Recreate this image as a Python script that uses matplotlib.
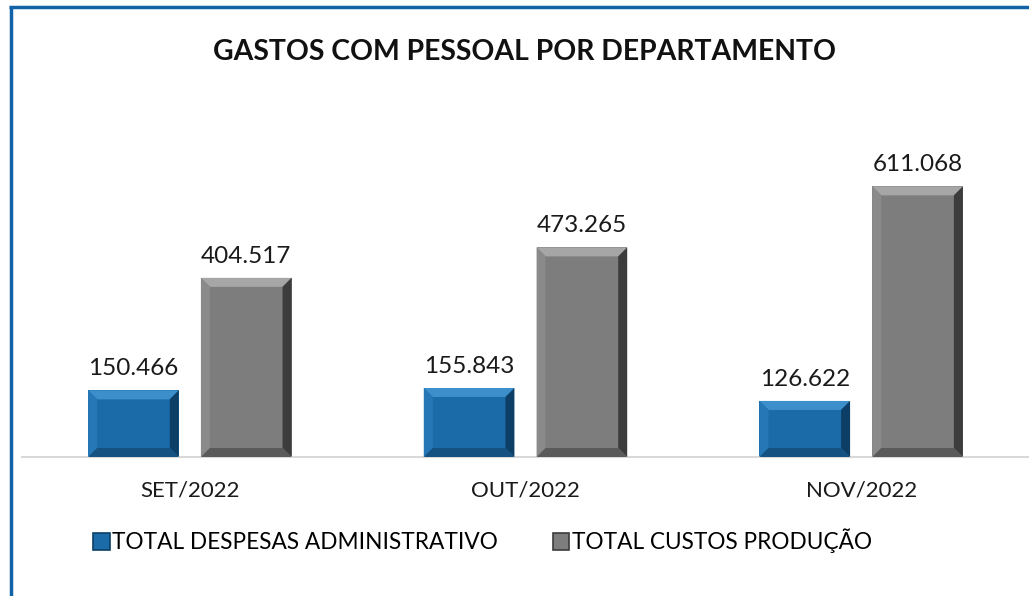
import matplotlib
matplotlib.use("Agg")
import matplotlib.pyplot as plt
import numpy as np
from matplotlib.patches import Polygon, Rectangle
from matplotlib.lines import Line2D

plt.rcParams["font.family"] = ["Lato", "DejaVu Sans"]

categories = ["SET/2022", "OUT/2022", "NOV/2022"]
series_names = ["TOTAL DESPESAS ADMINISTRATIVO", "TOTAL CUSTOS PRODUÇÃO"]
admin = [150466, 155843, 126622]
producao = [404517, 473265, 611068]
value_labels = [["150.466", "155.843", "126.622"],
                ["404.517", "473.265", "611.068"]]

# face, top, left, right, bottom bevel colours
BLUE = ["#1b6ba8", "#3d8fcb", "#2577b5", "#0d3f66", "#155282"]
GRAY = ["#7d7d7d", "#a6a6a6", "#8a8a8a", "#3c3c3c", "#5a5a5a"]
FRAME = "#0f63a6"

fig = plt.figure(figsize=(10.29, 5.96), dpi=100)
ax = fig.add_axes([22 / 1029, 139 / 596, 1007 / 1029, 310 / 596])

x = np.arange(len(categories))
w = 0.27
off = 0.168
bars = [ax.bar(x - off, admin, w, color=BLUE[0], zorder=2),
        ax.bar(x + off, producao, w, color=GRAY[0], zorder=2)]

ax.set_xlim(-0.5, 2.5)
ax.set_ylim(0, 700000)
fig.canvas.draw()


def bevel(patch, cols, px=9):
    # trapezoid edges drawn in pixel space, converted back to data
    x0, y0 = patch.get_x(), patch.get_y()
    x1, y1 = x0 + patch.get_width(), y0 + patch.get_height()
    to_px = ax.transData
    inv = ax.transData.inverted()
    (a, b), (c, d) = to_px.transform([(x0, y0), (x1, y1)])
    e = min(px, (d - b) / 2.2)
    ia, ib, ic, idd = a + e, b + e, c - e, d - e
    quads = {
        1: [(a, d), (c, d), (ic, idd), (ia, idd)],
        2: [(a, b), (a, d), (ia, idd), (ia, ib)],
        3: [(c, b), (c, d), (ic, idd), (ic, ib)],
        4: [(a, b), (c, b), (ic, ib), (ia, ib)],
    }
    for k, q in quads.items():
        ax.add_patch(Polygon(inv.transform(q), closed=True, facecolor=cols[k],
                             edgecolor="none", zorder=3))


for container, cols in zip(bars, [BLUE, GRAY]):
    for p in container:
        bevel(p, cols)

for container, labs in zip(bars, value_labels):
    for p, t in zip(container, labs):
        ax.annotate(t, (p.get_x() + p.get_width() / 2, p.get_height()),
                    xytext=(0, 8), textcoords="offset points",
                    ha="center", va="bottom", fontsize=17.5, color="#1a1a1a")

ax.set_xticks(x)
ax.set_xticklabels(categories, fontsize=16, color="#1a1a1a")
ax.tick_params(axis="x", length=0, pad=17)
ax.set_yticks([])
for s in ("top", "right", "left"):
    ax.spines[s].set_visible(False)
ax.spines["bottom"].set_color("#d9d9d9")
ax.spines["bottom"].set_linewidth(1.5)

fig.text(0.51, 0.912, "GASTOS COM PESSOAL POR DEPARTAMENTO", ha="center",
         va="center", fontsize=20.4, fontweight="bold", color="#111111")

handles = [Rectangle((0, 0), 1, 1, facecolor=BLUE[0], edgecolor=BLUE[3], lw=1.2),
           Rectangle((0, 0), 1, 1, facecolor=GRAY[0], edgecolor=GRAY[3], lw=1.2)]
fig.legend(handles, series_names, loc="center left",
           bbox_to_anchor=(84 / 1029, 1 - 541 / 596), ncol=2, frameon=False,
           fontsize=16.3, handlelength=0.75, handleheight=0.75,
           handletextpad=0.1, columnspacing=2.4, borderaxespad=0)

# blue frame on the top and left edges
fig.add_artist(Line2D([9 / 1029, 1], [1 - 7 / 596] * 2, color=FRAME, lw=2.5,
                      transform=fig.transFigure, solid_capstyle="butt"))
fig.add_artist(Line2D([10.5 / 1029] * 2, [0, 1 - 6 / 596], color=FRAME, lw=2.5,
                      transform=fig.transFigure, solid_capstyle="butt"))

fig.savefig("out.png", dpi=100)
